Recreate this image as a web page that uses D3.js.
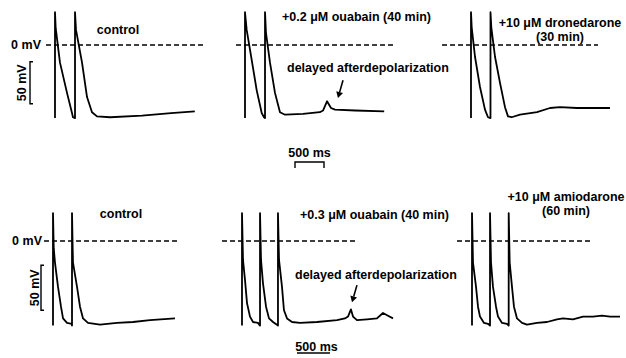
<!DOCTYPE html>
<html>
<head>
<meta charset="utf-8">
<script src="https://cdn.jsdelivr.net/npm/d3@7"></script>
<style>
  body { margin: 0; background: #fff; }
  text { font-family: "Liberation Sans", Arial, sans-serif; font-weight: bold; font-size: 12.5px; fill: #000; }
</style>
</head>
<body>
<div id="chart"></div>
<script>
// traces: [time ms, membrane potential mV], time 0 = first upstroke
const controlTop = [[0,-87],[0,39],[12,20],[86,-21],[207,-57],[293,-81],[310,-86],[345,-87],[345,39],[362,18],[466,-21],[552,-62],[638,-80],[724,-85],[950,-86],[1500,-84],[2000,-81],[2410,-79]];
const ouabainTop = [[0,-87],[0,39],[29,18],[116,-18],[202,-54],[288,-81],[328,-86],[345,-87],[345,39],[362,14],[431,-21],[517,-57],[603,-80],[690,-83],[1000,-82],[1290,-80],[1345,-78],[1414,-67],[1483,-75],[1552,-77],[1900,-78],[2400,-79]];
const dronedarone = [[0,-87],[0,39],[12,21],[69,-14],[155,-50],[241,-77],[293,-86],[336,-87],[336,39],[350,21],[414,-14],[500,-45],[586,-74],[638,-85],[700,-86],[845,-83],[1138,-80],[1362,-75],[1534,-74],[1827,-75],[2103,-75],[2396,-75]];
const controlBottom = [[0,-94],[0,31],[11,-8],[30,-24],[76,-51],[121,-73],[152,-86],[212,-91],[283,-92],[288,-94],[288,31],[298,-8],[303,-24],[364,-51],[409,-73],[455,-86],[530,-91],[712,-93],[970,-91],[1212,-90],[1470,-88],[1848,-86]];
const ouabainBottom = [[0,-94],[0,31],[15,-21],[45,-43],[76,-69],[121,-84],[167,-90],[242,-91],[273,-94],[273,31],[288,-21],[318,-47],[364,-73],[409,-86],[470,-90],[545,-94],[545,31],[561,-21],[606,-51],[636,-77],[682,-86],[758,-90],[879,-91],[1136,-90],[1439,-88],[1560,-86],[1606,-84],[1651,-76],[1682,-84],[1742,-88],[1894,-87],[2045,-86],[2136,-80],[2212,-83],[2288,-86]];
const amiodarone = [[0,-94],[0,31],[15,-24],[61,-51],[91,-73],[121,-84],[182,-91],[242,-92],[273,-94],[273,31],[288,-24],[318,-51],[364,-73],[394,-84],[455,-91],[530,-92],[556,-94],[556,31],[571,-24],[606,-51],[636,-73],[682,-86],[758,-91],[833,-93],[985,-91],[1136,-90],[1288,-87],[1379,-86],[1530,-87],[1682,-84],[1833,-84],[1970,-83],[2091,-84],[2242,-84]];

// labels
const topLabels = ["control", "+0.2 \u03bcM ouabain (40 min)", ["+10 \u03bcM dronedarone", "(30 min)"]];
const bottomLabels = ["control", "+0.3 \u03bcM ouabain (40 min)", ["+10 \u03bcM amiodarone", "(60 min)"]];
const dadLabel = "delayed afterdepolarization";
const zeroLabel = "0 mV";
const voltBarLabel = "50 mV";
const timeBarLabel = "500 ms";
const dadArrowTop = [[1690,-42],[1603,-63]];
const dadArrowBottom = [[1742,-49],[1667,-68]];

const width = 626, height = 358;
const svg = d3.select("#chart").append("svg")
  .attr("width", width).attr("height", height);
svg.append("rect").attr("width", width).attr("height", height).attr("fill", "#fff");

const rows = [
  { zeroY: 45, mv50: 42, ms500: 29, voltBar: [-20, -70], volText: 22, volX: 30 },
  { zeroY: 241, mv50: 45, ms500: 33, voltBar: [-27, -77], volText: 35, volX: 41 }
];

const panels = [
  { row: 0, x0: 55, data: controlTop, dash: [-155, 2586] },
  { row: 0, x0: 245, data: ouabainTop, dash: [-155, 2586] },
  { row: 0, x0: 471, data: dronedarone, dash: [-500, 2190] },
  { row: 1, x0: 53, data: controlBottom, dash: [-136, 1894] },
  { row: 1, x0: 242, data: ouabainBottom, dash: [-303, 1742] },
  { row: 1, x0: 472, data: amiodarone, dash: [-227, 1788] }
];

const yScales = rows.map(r => d3.scaleLinear().domain([0, -50]).range([r.zeroY, r.zeroY + r.mv50]));

panels.forEach(p => {
  const r = rows[p.row];
  const x = d3.scaleLinear().domain([0, 500]).range([p.x0, p.x0 + r.ms500]);
  const y = yScales[p.row];
  p.x = x; p.y = y;

  svg.append("line")
    .attr("x1", x(p.dash[0])).attr("x2", x(p.dash[1]))
    .attr("y1", y(0)).attr("y2", y(0))
    .attr("stroke", "#000").attr("stroke-width", 1.4)
    .attr("stroke-dasharray", "5,3");

  const line = d3.line().x(d => x(d[0])).y(d => y(d[1]));
  svg.append("path")
    .datum(p.data)
    .attr("d", line)
    .attr("fill", "none")
    .attr("stroke", "#000")
    .attr("stroke-width", 1.8)
    .attr("stroke-linejoin", "round");
});

// 0 mV labels and 50 mV bars
rows.forEach((r, i) => {
  const y = yScales[i];
  svg.append("text").attr("x", i === 0 ? 41 : 42).attr("y", y(0) + 4)
    .attr("text-anchor", "end").text(zeroLabel);

  svg.append("path")
    .attr("d", `M${r.volX + 3},${y(r.voltBar[0])}H${r.volX}V${y(r.voltBar[1])}H${r.volX + 3}`)
    .attr("fill", "none").attr("stroke", "#000").attr("stroke-width", 1.4);

  const cy = (y(r.voltBar[0]) + y(r.voltBar[1])) / 2;
  svg.append("text")
    .attr("transform", `translate(${r.volText + 4},${cy}) rotate(-90)`)
    .attr("text-anchor", "middle").text(voltBarLabel);
});

// condition labels
const labelPos = [
  [118, 34], [282, 21], [560, 27],
  [121, 218], [300, 219], [566, 201]
];
[...topLabels, ...bottomLabels].forEach((lab, i) => {
  const [lx, ly] = labelPos[i];
  if (Array.isArray(lab)) {
    svg.append("text").attr("x", lx).attr("y", ly).attr("text-anchor", "middle").text(lab[0]);
    svg.append("text").attr("x", lx).attr("y", ly + 14).attr("text-anchor", "middle").text(lab[1]);
  } else {
    svg.append("text").attr("x", lx).attr("y", ly)
      .attr("text-anchor", i === 0 || i === 3 ? "middle" : "start").text(lab);
  }
});

// DAD annotations
const drawArrow = (p, pts, ty) => {
  const [a, b] = pts.map(d => [p.x(d[0]), p.y(d[1])]);
  const ang = Math.atan2(b[1] - a[1], b[0] - a[0]);
  const hl = 6, hw = 3.5;
  const bx = b[0] - hl * Math.cos(ang), by = b[1] - hl * Math.sin(ang);
  svg.append("line").attr("x1", a[0]).attr("y1", a[1]).attr("x2", bx).attr("y2", by)
    .attr("stroke", "#000").attr("stroke-width", 1.6);
  svg.append("path")
    .attr("d", `M${b[0]},${b[1]}L${bx - hw * Math.sin(ang)},${by + hw * Math.cos(ang)}L${bx + hw * Math.sin(ang)},${by - hw * Math.cos(ang)}Z`)
    .attr("fill", "#000");
  svg.append("text").attr("x", ty[0]).attr("y", ty[1]).text(dadLabel);
};
drawArrow(panels[1], dadArrowTop, [287, 72]);
drawArrow(panels[4], dadArrowBottom, [295, 279]);

// 500 ms bars
const tTop = panels[1].x, tBot = panels[4].x;
const topBarX0 = tTop.invert(295);
svg.append("path")
  .attr("d", `M${tTop(topBarX0)},168V162H${tTop(topBarX0 + 500)}V168`)
  .attr("fill", "none").attr("stroke", "#000").attr("stroke-width", 1.4);
svg.append("text").attr("x", (tTop(topBarX0) + tTop(topBarX0 + 500)) / 2).attr("y", 157)
  .attr("text-anchor", "middle").text(timeBarLabel);

const botBarX0 = tBot.invert(297);
svg.append("line")
  .attr("x1", tBot(botBarX0)).attr("x2", tBot(botBarX0 + 500))
  .attr("y1", 353).attr("y2", 353)
  .attr("stroke", "#000").attr("stroke-width", 1.4);
svg.append("text").attr("x", (tBot(botBarX0) + tBot(botBarX0 + 500)) / 2 + 3).attr("y", 351)
  .attr("text-anchor", "middle").text(timeBarLabel);
</script>
</body>
</html>
